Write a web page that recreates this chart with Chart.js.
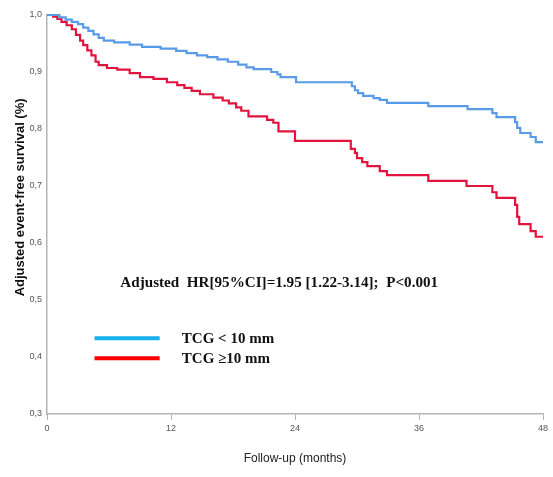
<!DOCTYPE html>
<html>
<head>
<meta charset="utf-8">
<script src="https://cdn.jsdelivr.net/npm/chart.js@4"></script>
<style>
  html, body { margin: 0; padding: 0; background: #fff; }
  #wrap { width: 553px; height: 477px; }
</style>
</head>
<body>
<div id="wrap"><canvas id="km"></canvas></div>
<script>
// curva TCG < 10 mm (meses, supervivencia)
const mesesBajo = [0, 1.2, 1.8, 2.4, 3.0, 3.5, 4.0, 4.5, 5.0, 5.5, 6.5, 8.0, 9.2, 11.0, 12.5, 13.5, 14.5, 15.5, 16.5, 17.5, 18.5, 19.3, 20.0, 21.7, 22.3, 22.6, 24.1, 29.5, 29.8, 30.1, 30.6, 31.6, 32.2, 32.9, 36.9, 40.7, 43.1, 43.5, 45.3, 45.5, 45.8, 46.8, 47.3, 48];
const survBajo = [1.0, 0.996, 0.992, 0.988, 0.984, 0.978, 0.972, 0.966, 0.960, 0.955, 0.952, 0.948, 0.944, 0.941, 0.937, 0.933, 0.929, 0.926, 0.922, 0.918, 0.913, 0.908, 0.905, 0.900, 0.896, 0.891, 0.882, 0.875, 0.868, 0.863, 0.858, 0.854, 0.851, 0.846, 0.840, 0.835, 0.828, 0.821, 0.812, 0.802, 0.793, 0.786, 0.777, 0.777];

// curva TCG >= 10 mm
const mesesAlto = [0, 0.6, 1.0, 1.4, 1.9, 2.4, 2.8, 3.2, 3.5, 3.9, 4.3, 4.7, 5.0, 5.8, 6.8, 8.0, 9.0, 10.3, 11.6, 12.6, 13.3, 14.0, 14.8, 16.1, 17.0, 17.6, 18.3, 18.8, 19.5, 21.3, 21.9, 22.4, 24.0, 29.4, 29.8, 30.0, 30.5, 31.0, 32.2, 32.9, 36.9, 40.6, 43.1, 43.5, 45.3, 45.5, 45.7, 46.8, 47.3, 48];
const survAlto = [1.0, 0.997, 0.993, 0.988, 0.982, 0.975, 0.965, 0.955, 0.947, 0.938, 0.929, 0.918, 0.912, 0.907, 0.904, 0.898, 0.891, 0.888, 0.882, 0.877, 0.872, 0.867, 0.861, 0.855, 0.850, 0.845, 0.838, 0.832, 0.822, 0.816, 0.811, 0.796, 0.779, 0.765, 0.758, 0.749, 0.742, 0.735, 0.726, 0.719, 0.709, 0.700, 0.689, 0.679, 0.667, 0.646, 0.633, 0.621, 0.611, 0.611];

const ticksX = [0, 12, 24, 36, 48];
const ticksY = [0.3, 0.4, 0.5, 0.6, 0.7, 0.8, 0.9, 1.0];
const etiquetas = ["TCG < 10 mm", "TCG \u226510 mm"];
const textoHR = "Adjusted  HR[95%CI]=1.95 [1.22-3.14];  P<0.001";
const tituloY = "Adjusted event-free survival (%)";

const puntos = (xs, ys) => xs.map((x, i) => ({ x: x, y: ys[i] }));

// texto, leyenda y titulo Y dibujados a mano
const anotaciones = {
  id: "anotaciones",
  afterDraw(chart) {
    const c = chart.ctx;
    const sx = chart.scales.x, sy = chart.scales.y;
    c.save();
    c.fillStyle = "#111";
    c.textBaseline = "middle";
    c.font = "bold 15px 'Liberation Serif', 'Times New Roman', serif";
    const x0 = sx.getPixelForValue(7.1);
    const x1 = sx.getPixelForValue(37.85);
    const w = c.measureText(textoHR).width;
    c.save();
    c.translate(x0, sy.getPixelForValue(0.53));
    c.scale((x1 - x0) / w, 1);
    c.fillText(textoHR, 0, 0);
    c.restore();

    const colores = ["#16b0ea", "#ff0000"];
    const yLeg = [0.433, 0.398];
    c.font = "bold 15px 'Liberation Serif', 'Times New Roman', serif";
    yLeg.forEach((v, i) => {
      const y = sy.getPixelForValue(v);
      c.strokeStyle = colores[i];
      c.lineWidth = 4;
      c.beginPath();
      c.moveTo(sx.getPixelForValue(4.6), y);
      c.lineTo(sx.getPixelForValue(10.9), y);
      c.stroke();
      c.fillText(etiquetas[i], sx.getPixelForValue(13.05), y + 1);
    });

    // titulo del eje Y, algo por encima del centro como en el original
    c.translate(20, sy.getPixelForValue(0.68));
    c.rotate(-Math.PI / 2);
    c.textAlign = "center";
    c.font = "bold 13px 'Liberation Sans', Arial, sans-serif";
    c.fillText(tituloY, 0, 0);
    c.restore();
  }
};

new Chart(document.getElementById("km"), {
  type: "line",
  data: {
    datasets: [
      {
        label: etiquetas[0],
        data: puntos(mesesBajo, survBajo),
        borderColor: "#5a9be8",
        borderWidth: 2.2,
        stepped: "before",
        pointRadius: 0,
        clip: 4,
        fill: false
      },
      {
        label: etiquetas[1],
        data: puntos(mesesAlto, survAlto),
        borderColor: "#e0143c",
        borderWidth: 2.2,
        stepped: "before",
        pointRadius: 0,
        clip: 4,
        fill: false
      }
    ]
  },
  options: {
    responsive: true,
    maintainAspectRatio: false,
    animation: false,
    layout: { padding: { left: 0, right: 10, top: 15, bottom: 0 } },
    plugins: { legend: { display: false }, tooltip: { enabled: false } },
    scales: {
      x: {
        type: "linear",
        min: 0,
        max: 48,
        afterBuildTicks: (s) => { s.ticks = ticksX.map(v => ({ value: v })); },
        afterFit: (s) => { s.height = 63; },
        border: { color: "#b4b4b4", width: 1.5 },
        grid: { drawOnChartArea: false, tickLength: 6, color: "#b4b4b4" },
        ticks: {
          color: "#555",
          padding: 3,
          maxRotation: 0,
          font: { family: "'Liberation Sans Narrow', 'Liberation Sans', Arial", size: 9 }
        },
        title: {
          display: true,
          text: "Follow-up (months)",
          color: "#222",
          padding: { top: 4, bottom: 11 },
          font: { family: "'Liberation Sans Narrow', 'Liberation Sans', Arial", size: 12 }
        }
      },
      y: {
        min: 0.3,
        max: 1.0,
        afterBuildTicks: (s) => { s.ticks = ticksY.map(v => ({ value: v })); },
        afterFit: (s) => { s.width = 47; },
        border: { color: "#b4b4b4", width: 1.5 },
        grid: { drawOnChartArea: false, drawTicks: false },
        ticks: {
          color: "#555",
          padding: 5,
          font: { family: "'Liberation Sans Narrow', 'Liberation Sans', Arial", size: 9 },
          callback: (v) => Number(v).toFixed(1).replace(".", ",")
        }
      }
    }
  },
  plugins: [anotaciones]
});
</script>
</body>
</html>
